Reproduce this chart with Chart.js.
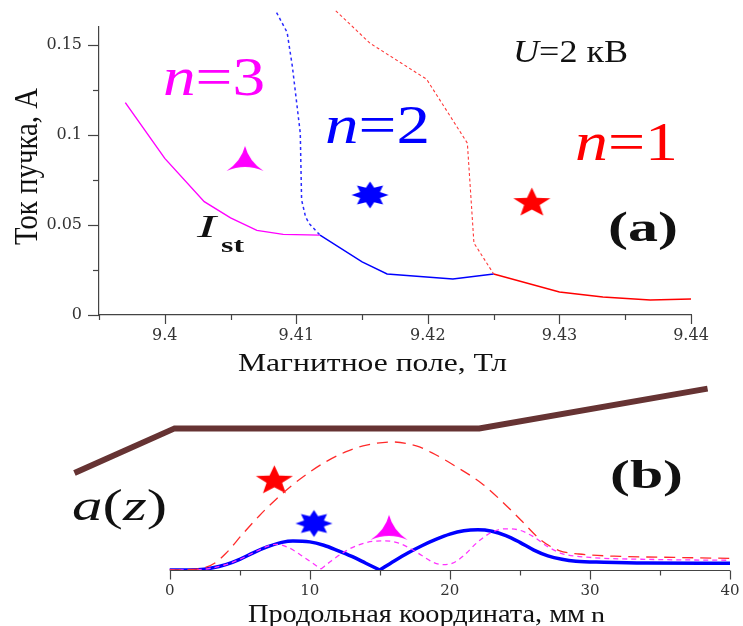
<!DOCTYPE html>
<html>
<head>
<meta charset="utf-8">
<script src="https://cdn.jsdelivr.net/npm/chart.js@4.4.1/dist/chart.umd.min.js"></script>
<style>
  html, body { margin: 0; padding: 0; background: #fff; }
  #wrap { position: relative; width: 743px; height: 626px; overflow: hidden; }
  #chartA { position: absolute; left: 0; top: 0; width: 743px; height: 382px; }
  #chartB { position: absolute; left: 0; top: 370px; width: 743px; height: 256px; }
</style>
</head>
<body>
<div id="wrap">
  <canvas id="chartA" width="743" height="382"></canvas>
  <canvas id="chartB" width="743" height="256"></canvas>
</div>
<script>
// ---- panel (a): start current vs magnetic field ----
const fieldN3 = [9.397, 9.400, 9.403, 9.405, 9.407, 9.409, 9.4118];
const currentN3 = [0.118, 0.087, 0.063, 0.054, 0.047, 0.0448, 0.0444];
const fieldN2 = [9.4118, 9.4150, 9.4169, 9.4219, 9.4250];
const currentN2 = [0.0444, 0.0295, 0.0228, 0.0200, 0.0228];
const fieldN1 = [9.4250, 9.4300, 9.4333, 9.4369, 9.4400];
const currentN1 = [0.0228, 0.0128, 0.0100, 0.0083, 0.0089];
const fieldB23 = [9.4085, 9.4093, 9.4097, 9.4103, 9.4104, 9.4107, 9.4110, 9.4118];
const currentB23 = [0.168, 0.157, 0.138, 0.101, 0.064, 0.0545, 0.0506, 0.0444];
const fieldB12 = [9.4130, 9.4156, 9.4199, 9.4230, 9.4235, 9.4250];
const currentB12 = [0.169, 0.151, 0.131, 0.0955, 0.040, 0.0228];
const markerField = [9.4061, 9.4156, 9.4279];
const markerCurrent = [0.087, 0.0667, 0.0622];
const fieldTicks = [9.395, 9.4, 9.405, 9.41, 9.415, 9.42, 9.425, 9.43, 9.435, 9.44];
const fieldLabels = [9.4, 9.41, 9.42, 9.43, 9.44];
const currentTicks = [0, 0.025, 0.05, 0.075, 0.1, 0.125, 0.15];
const currentLabels = [0, 0.05, 0.1, 0.15];

// ---- panel (b): field profiles along z ----
const profileZ = [-6.8, 0.35, 22.1, 38.4];
const profileA = [1.00, 1.46, 1.46, 1.87];
const n1Z = [0, 1.5, 2.4, 3.2, 4.0, 5.2, 6.4, 7.6, 8.8, 10.0, 11.2, 12.6, 13.8, 15.9, 17.6, 18.7, 20.4, 22.3, 23.7, 25.1, 26.5, 27.8, 29.2, 32.2, 36, 40];
const n1A = [0, 0.005, 0.02, 0.07, 0.17, 0.37, 0.56, 0.73, 0.88, 1.01, 1.12, 1.22, 1.28, 1.32, 1.28, 1.21, 1.07, 0.89, 0.71, 0.51, 0.31, 0.20, 0.165, 0.14, 0.13, 0.12];
const n2LeftZ = [0, 2, 3, 4, 5, 6, 7, 8, 8.8, 10, 11, 12, 13, 14, 15];
const n2LeftA = [0, 0.003, 0.02, 0.055, 0.11, 0.18, 0.24, 0.285, 0.30, 0.29, 0.255, 0.20, 0.14, 0.07, 0];
const n2RightZ = [15, 16, 17, 18, 19, 20, 21, 22, 23, 24, 25, 26, 27, 28, 29, 31, 34, 40];
const n2RightA = [0, 0.09, 0.175, 0.25, 0.315, 0.37, 0.405, 0.415, 0.40, 0.355, 0.285, 0.205, 0.145, 0.11, 0.09, 0.08, 0.072, 0.07];
const n3LeftZ = [0, 2, 3, 4, 5, 6, 7, 7.6, 8.5, 9.5, 10.8];
const n3LeftA = [0, 0.003, 0.02, 0.055, 0.11, 0.18, 0.245, 0.265, 0.23, 0.14, 0.01];
const n3RightZ = [10.8, 11.5, 12.5, 13.5, 14.5, 15.4, 16.3, 17.2, 18.0, 18.8, 19.5, 20.2, 21.0, 22.0, 23.0, 24.0, 25.0, 26.0, 27.0, 28.0, 30, 34, 40];
const n3RightA = [0.01, 0.09, 0.19, 0.26, 0.295, 0.30, 0.28, 0.22, 0.15, 0.08, 0.055, 0.07, 0.15, 0.29, 0.39, 0.425, 0.41, 0.34, 0.24, 0.17, 0.13, 0.11, 0.10];
const markerZ = [7.47, 10.3, 15.66];
const markerA = [0.92, 0.48, 0.44];
const coordTicks = [0, 5, 10, 15, 20, 25, 30, 35, 40];
const coordLabels = [0, 10, 20, 30, 40];

const axisColor = '#444';
const tickColor = '#333';
const serif = '"Liberation Serif", serif';
const magenta = '#ff00ff', blue = '#0000ff', red = '#ff0000', brown = '#663333';

function pts(xs, ys) {
    return xs.map((x, i) => ({ x: x, y: ys[i] }));
}

// filled n-point star, squashed vertically by sy
function starImage(n, outer, innerRatio, color, sy) {
    const w = Math.ceil(outer * 2) + 2, h = Math.ceil(outer * 2 * sy) + 2;
    const c = document.createElement('canvas');
    c.width = w; c.height = h;
    const g = c.getContext('2d');
    g.translate(w / 2, h / 2);
    g.scale(1, sy);
    g.beginPath();
    for (let i = 0; i < n * 2; i++) {
        const r = i % 2 ? outer * innerRatio : outer;
        const a = -Math.PI / 2 + i * Math.PI / n;
        g.lineTo(r * Math.cos(a), r * Math.sin(a));
    }
    g.closePath();
    g.fillStyle = color;
    g.fill();
    return c;
}

// three-cusp arrowhead marker
function arrowImage(color) {
    const c = document.createElement('canvas');
    c.width = 40; c.height = 29;
    const g = c.getContext('2d');
    g.translate(20, 16);
    g.beginPath();
    g.moveTo(0, -14);
    g.quadraticCurveTo(4, 1.5, 18.5, 11);
    g.quadraticCurveTo(0, 3, -18.5, 11);
    g.quadraticCurveTo(-4, 1.5, 0, -14);
    g.closePath();
    g.fillStyle = color;
    g.fill();
    return c;
}

// draws runs of text fitted to a given width; runs are [text, font, color]
function label(ctx, runs, left, base, width, rot, sy) {
    ctx.save();
    ctx.translate(left, base);
    if (rot) ctx.rotate(rot);
    let natural = 0;
    runs.forEach(r => { ctx.font = r[1]; natural += ctx.measureText(r[0]).width; });
    ctx.scale(width / natural, sy || 1);
    ctx.textBaseline = 'alphabetic';
    ctx.textAlign = 'left';
    let cx = 0;
    runs.forEach(r => {
        ctx.font = r[1];
        ctx.fillStyle = r[2];
        ctx.fillText(r[0], cx, 0);
        cx += ctx.measureText(r[0]).width;
    });
    ctx.restore();
}

function seg(ctx, x1, y1, x2, y2) {
    ctx.beginPath();
    ctx.moveTo(x1, y1);
    ctx.lineTo(x2, y2);
    ctx.stroke();
}

const panelAExtras = {
    id: 'panelAExtras',
    afterDraw(chart) {
        const { ctx, scales: { x, y } } = chart;
        ctx.save();
        ctx.strokeStyle = axisColor;
        ctx.lineWidth = 1.2;
        fieldTicks.forEach(v => {
            const px = Math.round(x.getPixelForValue(v)) + 0.5;
            seg(ctx, px, y.bottom, px, y.bottom + (fieldLabels.includes(v) ? 9 : 5));
        });
        currentTicks.forEach(v => {
            const py = Math.round(y.getPixelForValue(v)) + 0.5;
            seg(ctx, x.left - (currentLabels.includes(v) ? 11 : 6), py, x.left, py);
        });

        const big = '54px ' + serif, bigI = 'italic 54px ' + serif;
        label(ctx, [['n', bigI, magenta], ['=3', big, magenta]], 163, 95, 102);
        label(ctx, [['n', bigI, blue], ['=2', big, blue]], 325, 143, 105);
        label(ctx, [['n', bigI, red], ['=1', big, red]], 575, 160, 103);
        label(ctx, [['U', 'italic 31px ' + serif, '#111'], ['=2 кВ', '31px ' + serif, '#111']], 513, 62, 115);
        label(ctx, [['(a)', 'bold 42px ' + serif, '#111']], 608, 241, 70);
        label(ctx, [['I', 'italic 32px ' + serif, '#111']], 197, 237, 19);
        label(ctx, [['st', 'bold 21px ' + serif, '#111']], 221, 252, 23);
        label(ctx, [['Магнитное поле, Тл', '26px ' + serif, '#111']], 238, 371, 269);
        label(ctx, [['Ток пучка, А', '26px ' + serif, '#111']], 37, 245, 157, -Math.PI / 2, 1.3);
        ctx.restore();
    }
};

const panelBExtras = {
    id: 'panelBExtras',
    afterDraw(chart) {
        const { ctx, scales: { x, y } } = chart;
        ctx.save();
        ctx.strokeStyle = axisColor;
        ctx.lineWidth = 1.2;
        const base = Math.round(y.getPixelForValue(0)) + 0.5;
        seg(ctx, x.getPixelForValue(0), base, x.getPixelForValue(40), base);
        coordTicks.forEach(v => {
            const px = Math.round(x.getPixelForValue(v)) + 0.5;
            seg(ctx, px, base, px, base + (coordLabels.includes(v) ? 9 : 5));
        });

        label(ctx, [['(b)', 'bold 41px ' + serif, '#111']], 610, 488 - 370, 73);
        label(ctx, [['a', 'italic 44px ' + serif, '#111'], ['(', '44px ' + serif, '#111'],
                    ['z', 'italic 44px ' + serif, '#111'], [')', '44px ' + serif, '#111']], 72, 520 - 370, 95);
        label(ctx, [['Продольная координата, мм', '25px ' + serif, '#111']], 248, 622 - 370, 337);
        label(ctx, [['n', '20px ' + serif, '#111']], 591, 622 - 370, 14);
        ctx.restore();
    }
};

function line(xs, ys, color, width, dash, extra) {
    return Object.assign({
        data: pts(xs, ys),
        showLine: true,
        borderColor: color,
        borderWidth: width,
        borderDash: dash || [],
        pointRadius: 0,
        tension: 0,
    }, extra || {});
}

const smooth = { tension: 0.4, cubicInterpolationMode: 'monotone' };

new Chart(document.getElementById('chartA'), {
    type: 'scatter',
    data: {
        datasets: [
            line(fieldB23, currentB23, '#2a2aff', 1.5, [3, 3], { clip: false }),
            line(fieldB12, currentB12, '#ff3a3a', 1.1, [3, 2.5], { clip: false }),
            line(fieldN3, currentN3, magenta, 1.4),
            line(fieldN2, currentN2, blue, 1.4),
            line(fieldN1, currentN1, red, 1.4),
            {
                data: pts(markerField, markerCurrent),
                pointStyle: [arrowImage(magenta), starImage(8, 18.5, 0.58, blue, 0.73), starImage(5, 19.5, 0.42, red, 0.8)],
                pointRadius: 5,
                showLine: false,
            },
        ],
    },
    options: {
        responsive: false,
        animation: false,
        devicePixelRatio: 1,
        layout: { padding: { left: 0, top: 27, right: 52, bottom: 0 } },
        plugins: { legend: { display: false }, tooltip: { enabled: false } },
        scales: {
            x: {
                type: 'linear', min: 9.395, max: 9.44,
                grid: { display: false, drawTicks: false },
                border: { display: true, color: axisColor, width: 1.2 },
                ticks: {
                    autoSkip: false, maxRotation: 0, padding: 11,
                    color: tickColor, font: { family: '"DejaVu Serif"', size: 16 },
                    callback: (v) => fieldLabels.includes(v) ? String(v) : '',
                },
                afterBuildTicks: (s) => { s.ticks = fieldTicks.map((v) => ({ value: v })); },
                afterFit: (s) => { s.height = 67; s.paddingLeft = 0; s.paddingRight = 0; },
            },
            y: {
                type: 'linear', min: 0, max: 0.16,
                grid: { display: false, drawTicks: false },
                border: { display: true, color: axisColor, width: 1.2 },
                ticks: {
                    autoSkip: false, padding: 17,
                    color: tickColor, font: { family: '"DejaVu Serif"', size: 16 },
                    callback: (v) => currentLabels.includes(v) ? String(v) : '',
                },
                afterBuildTicks: (s) => { s.ticks = currentTicks.map((v) => ({ value: v })); },
                afterFit: (s) => { s.width = 99; s.paddingTop = 0; s.paddingBottom = 0; },
            },
        },
    },
    plugins: [panelAExtras],
});

new Chart(document.getElementById('chartB'), {
    type: 'scatter',
    data: {
        datasets: [
            line(profileZ, profileA, brown, 6),
            line(n1Z, n1A, '#ff2a2a', 1.3, [11, 7], smooth),
            line(n3LeftZ, n3LeftA, '#ff33ff', 1.3, [5, 4], smooth),
            line(n3RightZ, n3RightA, '#ff33ff', 1.3, [5, 4], smooth),
            line(n2LeftZ, n2LeftA, blue, 3.5, [], smooth),
            line(n2RightZ, n2RightA, blue, 3.5, [], smooth),
            {
                data: pts(markerZ, markerA),
                pointStyle: [starImage(5, 19.5, 0.42, red, 0.8), starImage(8, 18.5, 0.58, blue, 0.73), arrowImage(magenta)],
                pointRadius: 5,
                showLine: false,
            },
        ],
    },
    options: {
        responsive: false,
        animation: false,
        devicePixelRatio: 1,
        layout: { padding: { left: 71.65, top: 0, right: 4, bottom: 0 } },
        plugins: { legend: { display: false }, tooltip: { enabled: false } },
        scales: {
            x: {
                type: 'linear', min: -7, max: 40.5,
                grid: { display: false, drawTicks: false },
                border: { display: false },
                ticks: {
                    autoSkip: false, maxRotation: 0, padding: 12,
                    color: tickColor, font: { family: '"DejaVu Serif"', size: 15 },
                    callback: (v) => coordLabels.includes(v) ? String(v) : '',
                },
                afterBuildTicks: (s) => { s.ticks = coordTicks.map((v) => ({ value: v })); },
                afterFit: (s) => { s.height = 56; s.paddingLeft = 0; s.paddingRight = 0; },
            },
            y: { type: 'linear', min: 0, max: 2, display: false },
        },
    },
    plugins: [panelBExtras],
});
</script>
</body>
</html>
